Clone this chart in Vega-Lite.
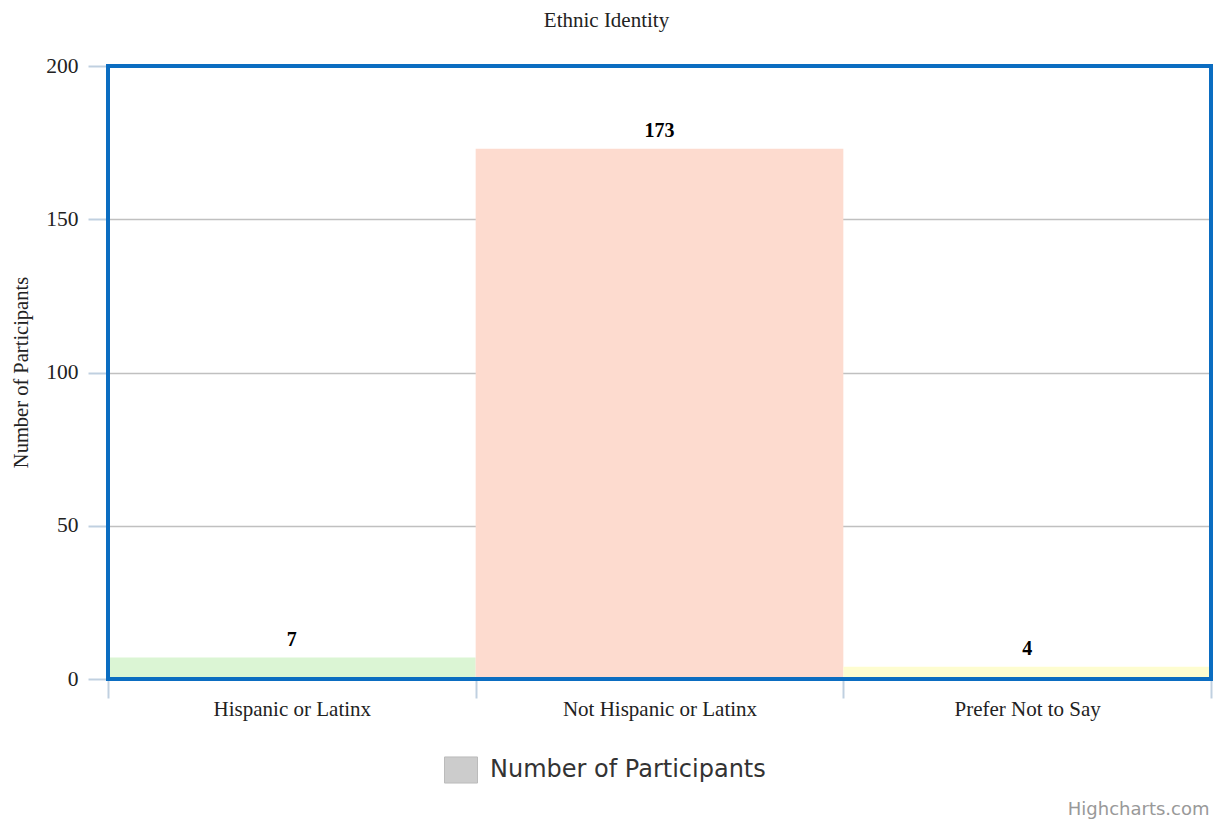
{
  "$schema": "https://vega.github.io/schema/vega-lite/v6.json",
  "width": 1103,
  "height": 613,
  "autosize": {"type": "none"},
  "padding": {"left": 108, "top": 66, "right": 5, "bottom": 141},
  "background": "#ffffff",
  "title": {
    "text": "Ethnic Identity",
    "font": "Liberation Serif",
    "fontSize": 21,
    "fontWeight": "normal",
    "color": "#222222",
    "anchor": "middle",
    "dx": -53,
    "baseline": "alphabetic",
    "offset": 7
  },
  "data": {
    "values": [
      {"ethnicity": "Hispanic or Latinx", "participants": 7},
      {"ethnicity": "Not Hispanic or Latinx", "participants": 173},
      {"ethnicity": "Prefer Not to Say", "participants": 4}
    ]
  },
  "encoding": {
    "x": {
      "field": "ethnicity",
      "type": "nominal",
      "sort": null,
      "scale": {"paddingInner": 0, "paddingOuter": 0},
      "axis": {
        "title": "Highcharts.com",
        "titleFont": "DejaVu Sans",
        "titleFontSize": 18,
        "titleFontWeight": "normal",
        "titleColor": "#999999",
        "titleAlign": "right",
        "titleBaseline": "alphabetic",
        "titleAnchor": null,
        "titleX": 1101,
        "titleY": 135,
        "labelAngle": 0,
        "labelFont": "Liberation Serif",
        "labelFontSize": 21,
        "labelColor": "#222222",
        "labelBaseline": "alphabetic",
        "labelPadding": 17,
        "labelLimit": 400,
        "tickBand": "extent",
        "tickSize": 19,
        "tickWidth": 2,
        "tickColor": "#c0d0e0",
        "domainColor": "#c0d0e0",
        "domainWidth": 2,
        "grid": false
      }
    },
    "y": {
      "field": "participants",
      "type": "quantitative",
      "scale": {"domain": [0, 200], "nice": false},
      "axis": {
        "values": [0, 50, 100, 150, 200],
        "title": "Number of Participants",
        "titleFont": "Liberation Serif",
        "titleFontSize": 20.5,
        "titleFontWeight": "normal",
        "titleColor": "#222222",
        "titleAngle": -90,
        "titleAlign": "center",
        "titleBaseline": "alphabetic",
        "titleX": -81,
        "titleY": 306,
        "labelFont": "Liberation Serif",
        "labelFontSize": 21.5,
        "labelColor": "#222222",
        "labelPadding": 10,
        "tickSize": 20,
        "tickWidth": 2,
        "tickColor": "#c0d0e0",
        "domain": false,
        "grid": true,
        "gridColor": "#c0c0c0",
        "gridWidth": 1.5,
        "gridOpacity": {
          "condition": {"test": "datum.value === 0 || datum.value === 200", "value": 0},
          "value": 1
        }
      }
    }
  },
  "layer": [
    {
      "mark": {"type": "bar"},
      "encoding": {
        "fill": {
          "field": "ethnicity",
          "type": "nominal",
          "sort": null,
          "scale": {
            "domain": ["Hispanic or Latinx", "Not Hispanic or Latinx", "Prefer Not to Say"],
            "range": ["#dbf5d4", "#fddbcf", "#fefdd0"]
          },
          "legend": null
        }
      }
    },
    {
      "mark": {
        "type": "text",
        "font": "Liberation Serif",
        "fontSize": 20,
        "fontWeight": "bold",
        "color": "#000000",
        "baseline": "alphabetic",
        "align": "center",
        "dy": -12
      },
      "encoding": {
        "text": {"field": "participants", "type": "quantitative"}
      }
    },
    {
      "data": {"values": []},
      "mark": {"type": "bar"},
      "encoding": {
        "x": {"field": "ethnicity", "type": "nominal"},
        "y": {"field": "participants", "type": "quantitative"},
        "color": {
          "datum": "Number of Participants",
          "scale": {"domain": ["Number of Participants"], "range": ["#cccccc"]},
          "legend": {
            "title": null,
            "orient": "none",
            "legendX": 336,
            "legendY": 687,
            "padding": 0,
            "symbolType": "M-1,-0.79H1V0.79H-1Z",
            "symbolSize": 1089,
            "symbolFillColor": "#cccccc",
            "symbolStrokeColor": "#bbbbbb",
            "symbolStrokeWidth": 1,
            "symbolOpacity": 1,
            "labelFont": "DejaVu Sans",
            "labelFontSize": 24,
            "labelColor": "#333333",
            "labelOffset": 12,
            "labelLimit": 400
          }
        }
      }
    }
  ],
  "config": {
    "view": {"stroke": "#0b6dc1", "strokeWidth": 4},
    "style": {"cell": {"strokeForeground": true}}
  }
}
